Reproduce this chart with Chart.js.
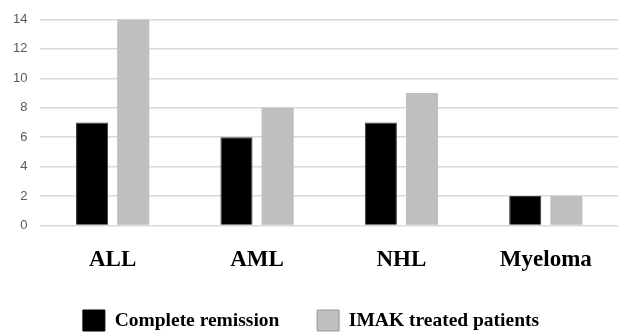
<!DOCTYPE html>
<html>
<head>
<meta charset="utf-8">
<script src="https://cdn.jsdelivr.net/npm/chart.js@4"></script>
<style>
  html, body { margin: 0; padding: 0; background: #fff; }
  #wrap { width: 618px; height: 332px; }
</style>
</head>
<body>
<div id="wrap"><canvas id="myChart" width="618" height="332"></canvas></div>
<script>
const categories = ['ALL', 'AML', 'NHL', 'Myeloma'];
const remission = [7, 6, 7, 2];
const treated = [14, 8, 9, 2];
const yTicks = [0, 2, 4, 6, 8, 10, 12, 14];

const data = {
  labels: categories,
  datasets: [{
    label: 'Complete remission',
    backgroundColor: '#000000',
    borderColor: '#3a3a3a',
    borderWidth: 1,
    data: remission,
  }, {
    label: 'IMAK treated patients',
    backgroundColor: '#bfbfbf',
    borderColor: '#8e9aa8',
    borderWidth: 0,
    data: treated,
  }]
};

const config = {
  type: 'bar',
  data: data,
  options: {
    responsive: false,
    animation: false,
    layout: { padding: { left: 0, right: -4, top: -5, bottom: -9 } },
    datasets: { bar: { barPercentage: 0.78, categoryPercentage: 0.57 } },
    plugins: {
      tooltip: { enabled: false },
      legend: {
        position: 'bottom',
        labels: {
          color: '#000',
          font: { family: 'Liberation Serif', size: 19.5, weight: 'bold' },
          boxWidth: 22,
          boxHeight: 21,
          padding: 23,
          generateLabels: function(chart) {
            // a few trailing spaces widen the gap between the two items
            return chart.data.datasets.map((ds, i) => ({
              text: i === 0 ? ds.label + '\u00a0\u00a0\u00a0' : ds.label,
              fillStyle: ds.backgroundColor,
              strokeStyle: i === 0 ? '#000' : '#8e9aa8',
              lineWidth: 1,
              datasetIndex: i
            }));
          }
        }
      }
    },
    scales: {
      x: {
        grid: { display: false },
        border: { display: false },
        ticks: {
          color: '#000',
          padding: 13,
          font: { family: 'Liberation Serif', size: 23, weight: 'bold' }
        }
      },
      y: {
        min: 0,
        max: 14,
        afterBuildTicks: function(axis) {
          axis.ticks = yTicks.map(v => ({ value: v }));
        },
        grid: { color: '#d9d9d9', lineWidth: 1.5, drawTicks: false },
        border: { display: false },
        ticks: {
          color: '#595959',
          padding: 13,
          font: { family: 'Liberation Sans', size: 13, lineHeight: 1 }
        }
      }
    }
  }
};

const myChart = new Chart(document.getElementById('myChart'), config);
</script>
</body>
</html>
